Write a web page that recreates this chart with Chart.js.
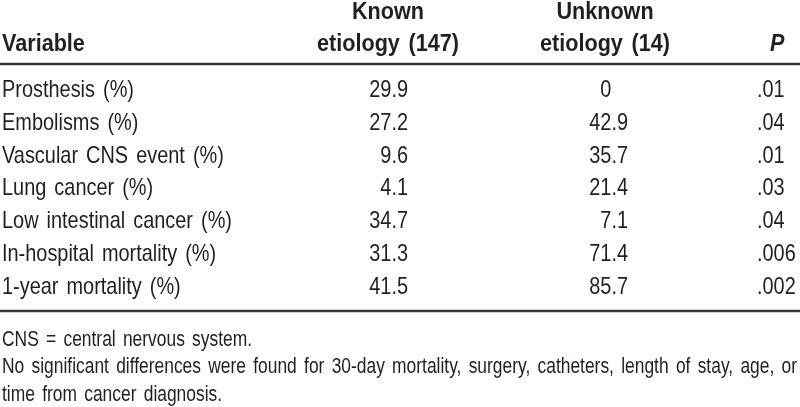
<!DOCTYPE html>
<html lang="en">
<head>
    <meta charset="UTF-8">
    <title>Known vs unknown etiology</title>
    <script src="https://cdn.jsdelivr.net/npm/chart.js"></script>
    <style>
        body {
            margin: 0;
            background: #fff;
        }
        #tableChart {
            display: block;
        }
    </style>
</head>
<body>
    <canvas id="tableChart" width="800" height="407"></canvas>

    <script>
        // Datos de la tabla
        const variables = [
            'Prosthesis (%)',
            'Embolisms (%)',
            'Vascular CNS event (%)',
            'Lung cancer (%)',
            'Low intestinal cancer (%)',
            'In-hospital mortality (%)',
            '1-year mortality (%)'
        ];
        const knownEtiology = ['29.9', '27.2', '9.6', '4.1', '34.7', '31.3', '41.5'];
        const unknownEtiology = ['0', '42.9', '35.7', '21.4', '7.1', '71.4', '85.7'];
        const pValues = ['.01', '.04', '.01', '.03', '.04', '.006', '.002'];
        const headers = [
            ['', 'Variable'],
            ['Known', 'etiology (147)'],
            ['Unknown', 'etiology (14)'],
            ['', 'P']
        ];
        const footnotes = [
            'CNS = central nervous system.',
            'No significant differences were found for 30-day mortality, surgery, catheters, length of stay, age, or',
            'time from cancer diagnosis.'
        ];

        const ink = '#231f20';
        const family = '"Liberation Sans", Arial, sans-serif';
        const narrow = 0.83;     // imitar Helvetica Condensed
        const narrowBold = 0.9;

        // posiciones en unidades de fila (y) y de pixel (x)
        const headerY = [-2.378, -1.402];
        const ruleY = [-1.006, 6.524];
        const noteY = [7.59, 8.415, 9.268];

        const tablePlugin = {
            id: 'tablePlugin',
            afterDraw(chart) {
                const ctx = chart.ctx;
                const x = chart.scales.x;
                const y = chart.scales.y;
                let sx = narrow;

                const text = (t, px, py, align) => {
                    const w = ctx.measureText(t).width * sx;
                    let left = px;
                    if (align === 'right') left = px - w;
                    if (align === 'center') left = px - w / 2;
                    ctx.save();
                    ctx.translate(left, py);
                    ctx.scale(sx, 1);
                    ctx.textAlign = 'left';
                    ctx.fillText(t, 0, 0);
                    ctx.restore();
                };

                ctx.save();
                ctx.fillStyle = ink;
                ctx.textBaseline = 'alphabetic';
                ctx.wordSpacing = '3px';

                // encabezados
                sx = narrowBold;
                ctx.font = 'bold 24px ' + family;
                text(headers[0][1], x.getPixelForValue(2), y.getPixelForValue(headerY[1]), 'left');
                [388, 605].forEach((cx, k) => {
                    const h = headers[k + 1];
                    text(h[0], x.getPixelForValue(cx), y.getPixelForValue(headerY[0]), 'center');
                    text(h[1], x.getPixelForValue(cx), y.getPixelForValue(headerY[1]), 'center');
                });
                ctx.font = 'italic bold 24px ' + family;
                text(headers[3][1], x.getPixelForValue(770), y.getPixelForValue(headerY[1]), 'left');

                // reglas horizontales
                ctx.strokeStyle = '#3a3a3a';
                ctx.lineWidth = 2.5;
                ruleY.forEach(v => {
                    const py = y.getPixelForValue(v);
                    ctx.beginPath();
                    ctx.moveTo(x.getPixelForValue(0), py);
                    ctx.lineTo(x.getPixelForValue(800), py);
                    ctx.stroke();
                });

                // celdas
                sx = narrow;
                ctx.font = '24px ' + family;
                const decimalCell = (t, rightEdge, py) => {
                    const dot = x.getPixelForValue(rightEdge) - ctx.measureText('.9').width * sx;
                    const parts = t.split('.');
                    text(parts[0], dot, py, 'right');
                    if (parts.length > 1) text('.' + parts[1], dot, py, 'left');
                };
                variables.forEach((name, i) => {
                    const py = y.getPixelForValue(i);
                    text(name, x.getPixelForValue(2), py, 'left');
                    decimalCell(knownEtiology[i], 408, py);
                    decimalCell(unknownEtiology[i], 628, py);
                    text(pValues[i], x.getPixelForValue(757), py, 'left');
                });

                // notas al pie: la linea larga ocupa todo el ancho
                ctx.font = '21.5px ' + family;
                sx = (x.getPixelForValue(797) - x.getPixelForValue(2)) / ctx.measureText(footnotes[1]).width;
                footnotes.forEach((t, k) => {
                    text(t, x.getPixelForValue(2), y.getPixelForValue(noteY[k]), 'left');
                });
                ctx.restore();
            }
        };

        new Chart(document.getElementById('tableChart'), {
            type: 'scatter',
            data: {
                datasets: [{
                    data: variables.map((_, i) => ({ x: 0, y: i })),
                    pointRadius: 0,
                    showLine: false
                }]
            },
            options: {
                responsive: false,
                animation: false,
                devicePixelRatio: 1,
                layout: { padding: 0 },
                plugins: {
                    legend: { display: false },
                    tooltip: { enabled: false }
                },
                scales: {
                    x: { type: 'linear', min: 0, max: 800, display: false },
                    y: { type: 'linear', min: -2.957, max: 9.451, reverse: true, display: false }
                }
            },
            plugins: [tablePlugin]
        });
    </script>
</body>
</html>
